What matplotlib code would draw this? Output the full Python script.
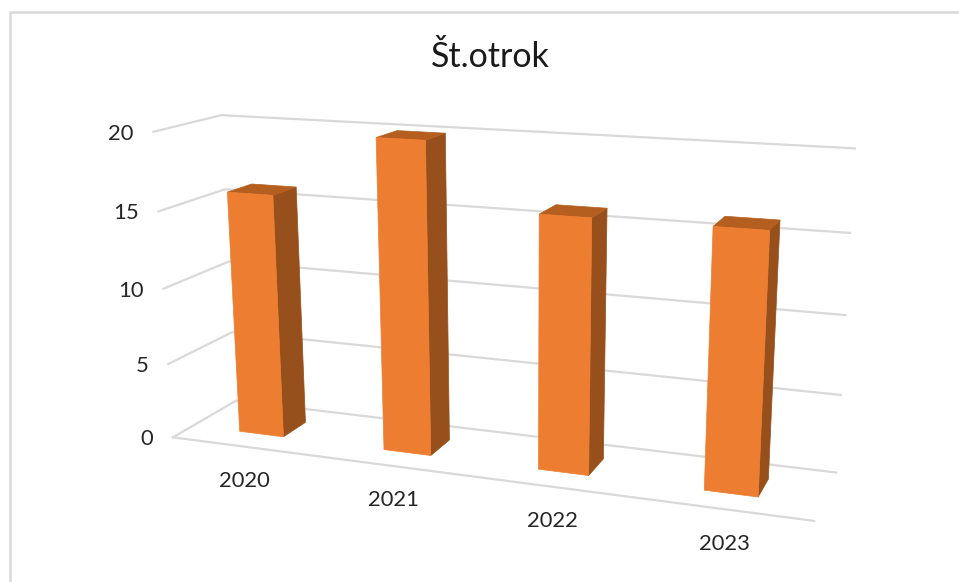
import numpy as np
import matplotlib
matplotlib.use("Agg")
import matplotlib.pyplot as plt
from matplotlib.patches import Polygon

# ---- data ----
years = ["2020", "2021", "2022", "2023"]
children = [16, 20, 16, 16]
z_ticks = [0, 5, 10, 15, 20]
title = "Št.otrok"

W, H = 959, 582
plt.rcParams["font.family"] = ["Lato", "DejaVu Sans"]

# perspective camera calibrated on the chart box: (category, depth, value) -> pixel
world = np.array([[0,0,0],[0,1,0],[0,1,20],[0,0,20],[4,1,20],[4,1,15],[4,1,10],[4,1,5],[4,1,0],[4,0,0]], float)
image = np.array([[172.3,437.3],[236.7,400.7],[220.7,115],[154,132],[855,148.3],[850,233],[845.3,315],[841,395],[836,472.7],[814.3,520.7]])
rows = []
for (X, Y, Z), (u, v) in zip(world, image):
    rows.append([X, Y, Z, 1, 0, 0, 0, 0, -u*X, -u*Y, -u*Z, -u])
    rows.append([0, 0, 0, 0, X, Y, Z, 1, -v*X, -v*Y, -v*Z, -v])
P = np.linalg.svd(np.array(rows))[2][-1].reshape(3, 4)

def proj(x, y, z):
    h = P @ np.array([x, y, z, 1.0])
    return h[:2] / h[2]

fig = plt.figure(figsize=(W/100, H/100), dpi=100)
ax = fig.add_axes([0, 0, 1, 1])
ax.set_xlim(0, W); ax.set_ylim(H, 0); ax.axis("off")

# frame (open at the right and bottom, as in the reference crop)
FRAME = "#D9D9D9"
ax.plot([9.5, 9.5, W], [H, 11.5, 11.5], color=FRAME, lw=1.8, zorder=1)

GRID = "#D9D9D9"
for z in z_ticks:
    pts = np.array([proj(0, 0, z), proj(0, 1, z), proj(4, 1, z)])
    ax.plot(pts[:, 0], pts[:, 1], color=GRID, lw=1.6, zorder=2, solid_joinstyle="miter")
pts = np.array([proj(0, 0, 0), proj(4, 0, 0)])
ax.plot(pts[:, 0], pts[:, 1], color=GRID, lw=1.6, zorder=2)

BW, D0, D1 = 0.31, 0.31, 0.69
for i, v in enumerate(children):
    x0, x1 = i + .49 - BW/2, i + .49 + BW/2
    front = [proj(x0, D0, 0), proj(x1, D0, 0), proj(x1, D0, v), proj(x0, D0, v)]
    side = [proj(x1, D0, 0), proj(x1, D1, 0), proj(x1, D1, v), proj(x1, D0, v)]
    top = [proj(x0, D0, v), proj(x1, D0, v), proj(x1, D1, v), proj(x0, D1, v)]
    for poly, c in ((side, "#97501C"), (top, "#B45F20"), (front, "#ED7D31")):
        ax.add_patch(Polygon(poly, closed=True, fc=c, ec=c, lw=0.5, zorder=3))

for z in z_ticks:
    px, py = proj(0, 0, z)
    ax.text(px - 20, py + 2, str(z), ha="right", va="center", fontsize=15.8, color="#262626")

for i, y in enumerate(years):
    px, py = proj(i + .5, 0, 0)
    ax.text(px + 1, py + 34.5, y, ha="center", va="center", fontsize=15.8, color="#262626")

ax.text(490, 57, title, ha="center", va="center", fontsize=24.5, color="#1a1a1a")

fig.savefig("out.png", dpi=100)
